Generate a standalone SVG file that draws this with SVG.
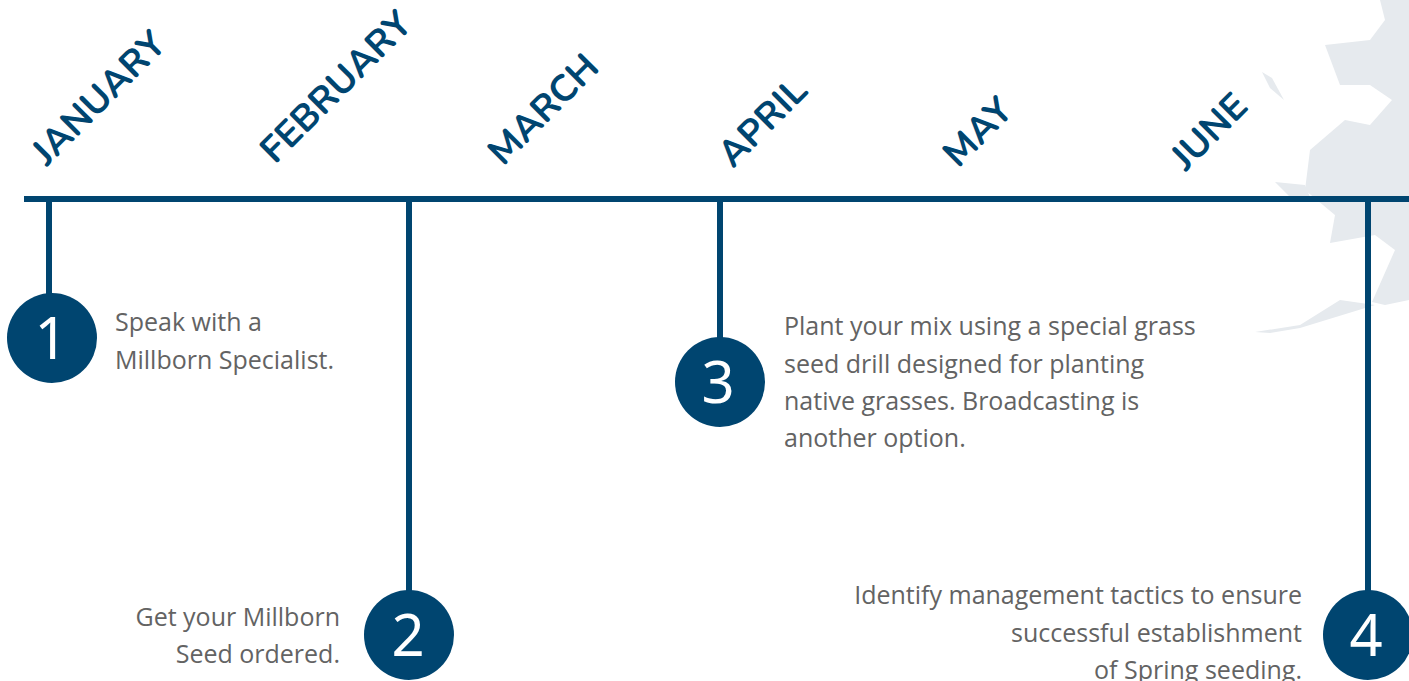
<svg xmlns="http://www.w3.org/2000/svg" width="1409" height="681" viewBox="0 0 1409 681">
<style>
.m{font-family:"Nunito","Open Sans","Noto Sans",sans-serif;font-weight:700;font-size:37px;fill:#004570}
.t{font-family:"Open Sans","Noto Sans",sans-serif;font-size:25px;fill:#636363}
.e{text-anchor:end}
.n{font-family:"Noto Sans","Open Sans",sans-serif;font-size:58px;fill:#fff;text-anchor:middle}
.c{fill:#004570}
.l{stroke:#004570;stroke-width:6;fill:none}
</style>
<rect width="1409" height="681" fill="#fff"/>
<g id="map" fill="#e6eaee">
<path d="M1380 0L1409 0L1409 300L1385 305L1372 302L1395 250L1375 235L1330 243L1335 215L1305 190L1310 150L1345 120L1370 125L1392 100L1370 85L1340 85L1325 45L1370 40L1385 20Z"/>
<path d="M1275 182L1305 185L1310 197L1290 197Z"/>
<path d="M1255 332L1300 325L1340 300L1375 305L1300 328L1270 333Z"/>
<path d="M1262 72L1272 78L1284 100L1270 88Z"/>
</g>
<g id="connectors">
<path class="l" d="M24 199H1409M49 199V300M409 199V596M720 199V345M1368 199V596"/>
</g>
<g id="months">
<text class="m" transform="translate(47 167) rotate(-45)">JANUARY</text>
<text class="m" transform="translate(275 165) rotate(-45)">FEBRUARY</text>
<text class="m" transform="translate(503 167) rotate(-45)">MARCH</text>
<text class="m" transform="translate(733 169) rotate(-45)">APRIL</text>
<text class="m" transform="translate(958 169) rotate(-45)">MAY</text>
<text class="m" transform="translate(1186 172) rotate(-45)">JUNE</text>
</g>
<g id="step1"><circle class="c" cx="52" cy="338" r="45"/><text class="n" x="51" y="359">1</text>
<text class="t" x="115" y="331">Speak with a</text><text class="t" x="115" y="369">Millborn Specialist.</text></g>
<g id="step2"><circle class="c" cx="409" cy="635" r="45"/><text class="n" x="408" y="656">2</text>
<text class="t e" x="340" y="626">Get your Millborn</text><text class="t e" x="340" y="663">Seed ordered.</text></g>
<g id="step3"><circle class="c" cx="720" cy="382" r="45"/><text class="n" x="718" y="403">3</text>
<text class="t" x="784" y="335">Plant your mix using a special grass</text><text class="t" x="784" y="373">seed drill designed for planting</text><text class="t" x="784" y="410">native grasses. Broadcasting is</text><text class="t" x="784" y="447">another option.</text></g>
<g id="step4"><circle class="c" cx="1368" cy="635" r="45"/><text class="n" x="1366" y="656">4</text>
<text class="t e" x="1302" y="604">Identify management tactics to ensure</text><text class="t e" x="1302" y="642">successful establishment</text><text class="t e" x="1302" y="679">of Spring seeding.</text></g>
</svg>
